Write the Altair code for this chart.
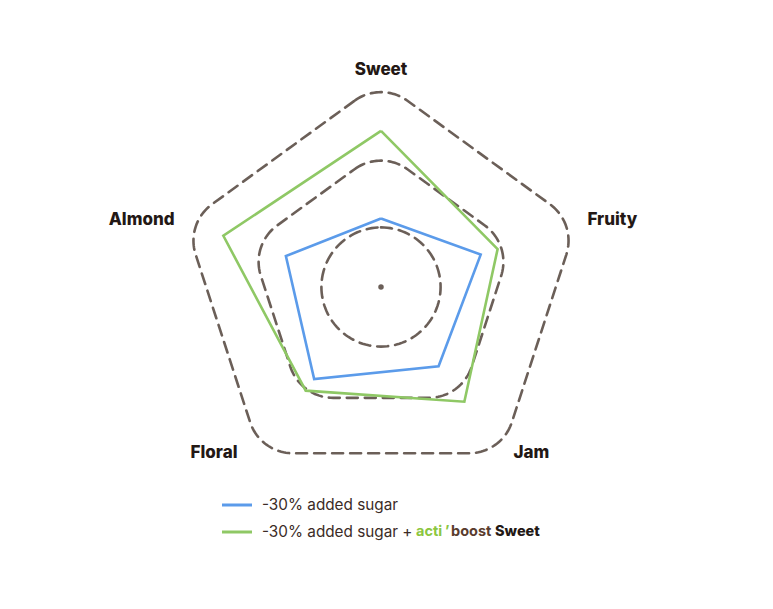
import altair as alt
import numpy as np
import pandas as pd

# ---- data ----
categories = ["Sweet", "Fruity", "Jam", "Floral", "Almond"]
angles = [90, 18, -54, -126, 162]
series_names = ["-30% added sugar", "-30% added sugar + actiboost Sweet"]
blue_values = [1.0, 1.53, 1.43, 1.66, 1.46]
green_values = [2.28, 1.79, 2.07, 1.87, 2.42]
grid_levels = [1, 2, 3]

UNIT = 68.5          # pixels per scale unit
CORNER = 45          # corner rounding of the grid (px)
W, H = 757, 593
CX, CY = 373, 279    # centre of radar in plot coords
FONT = "Inter"

rows = []
for s, vals in zip(series_names, [blue_values, green_values]):
    for i in range(len(categories) + 1):
        k = i % len(categories)
        rows.append({"series": s, "cat": categories[k], "angle": angles[k],
                     "value": vals[k], "order": i})
df = pd.DataFrame(rows)

# rounded pentagon grid (innermost one fully rounded into a circle)
grid_rows = []
o = 0
for lvl in grid_levels:
    R = lvl * UNIT
    pts = []
    if lvl == 1:
        rc = R * 0.87
        for phi in np.linspace(90, -270, 121):
            pts.append((rc * np.cos(np.radians(phi)), rc * np.sin(np.radians(phi))))
    else:
        r = CORNER
        c = R - r / np.sin(np.radians(54))
        for ang in angles:
            for phi in np.linspace(ang + 36, ang - 36, 25):
                pts.append((c * np.cos(np.radians(ang)) + r * np.cos(np.radians(phi)),
                            c * np.sin(np.radians(ang)) + r * np.sin(np.radians(phi))))
        pts.append(pts[0])
    for (px, py) in pts:
        grid_rows.append({"level": lvl, "gx": px, "gy": py, "o": o})
        o += 1
gdf = pd.DataFrame(grid_rows)

xs = alt.Scale(domain=[-CX, W - CX], range=[0, W])
ys = alt.Scale(domain=[-(H - CY), CY], range=[H, 0])
noax = dict(axis=None)

grid = alt.Chart(gdf).mark_line(
    color="#6b5f58", strokeWidth=2.6, strokeDash=[11, 7], strokeCap="round"
).encode(
    x=alt.X("gx:Q", scale=xs, **noax),
    y=alt.Y("gy:Q", scale=ys, **noax),
    detail="level:N",
    order="o:Q",
)

centre = alt.Chart(pd.DataFrame({"cx": [0], "cy": [0]})).mark_circle(
    size=30, color="#6b5f58", opacity=1
).encode(x=alt.X("cx:Q", scale=xs, **noax), y=alt.Y("cy:Q", scale=ys, **noax))

lines = alt.Chart(df).transform_calculate(
    px=f"datum.value*{UNIT}*cos(datum.angle*PI/180)",
    py=f"datum.value*{UNIT}*sin(datum.angle*PI/180)",
).mark_line(strokeWidth=2.6, strokeJoin="miter").encode(
    x=alt.X("px:Q", scale=xs, **noax),
    y=alt.Y("py:Q", scale=ys, **noax),
    color=alt.Color("series:N", scale=alt.Scale(domain=series_names,
                                                range=["#5b9bea", "#8fc865"]), legend=None),
    detail="series:N",
    order="order:Q",
)

lab_df = pd.DataFrame({"cat": categories, "angle": angles})
label_style = {
    "Sweet": dict(r=208, align="center", baseline="bottom", dx=0, dy=0),
    "Fruity": dict(r=217, align="left", baseline="middle", dx=0, dy=0),
    "Jam": dict(r=205, align="left", baseline="middle", dx=12, dy=0),
    "Floral": dict(r=205, align="right", baseline="middle", dx=-23, dy=0),
    "Almond": dict(r=217, align="right", baseline="middle", dx=0, dy=0),
}
label_layers = []
for cat in categories:
    st = label_style[cat]
    label_layers.append(
        alt.Chart(lab_df).transform_filter(alt.datum.cat == cat).transform_calculate(
            lx=f"{st['r']}*cos(datum.angle*PI/180)",
            ly=f"{st['r']}*sin(datum.angle*PI/180)",
        ).mark_text(
            font=FONT, fontWeight=800, fontSize=17, color="#231815",
            align=st["align"], baseline=st["baseline"], dx=st["dx"], dy=st["dy"],
        ).encode(
            x=alt.X("lx:Q", scale=xs, **noax),
            y=alt.Y("ly:Q", scale=ys, **noax),
            text="cat:N",
        )
    )

# ---- manual legend ----
leg_y = [497, 524]   # plot coords
colors = ["#5b9bea", "#8fc865"]
leg_layers = []
for i in range(2):
    leg_layers.append(
        alt.Chart(pd.DataFrame({"a": [0]})).mark_rule(strokeWidth=3, color=colors[i]).encode(
            x=alt.value(214), x2=alt.value(244), y=alt.value(leg_y[i])
        )
    )
leg_text = "-30% added sugar"
leg_layers.append(alt.Chart(pd.DataFrame({"t": [leg_text]})).mark_text(
    font=FONT, fontSize=15.3, color="#3b2b26", align="left", baseline="middle"
).encode(x=alt.value(254), y=alt.value(leg_y[0]), text="t:N"))
leg_layers.append(alt.Chart(pd.DataFrame({"t": [leg_text + " +"]})).mark_text(
    font=FONT, fontSize=15.3, color="#3b2b26", align="left", baseline="middle"
).encode(x=alt.value(254), y=alt.value(leg_y[1]), text="t:N"))
brand = [("acti", 408, "#8cc63f", 700, 14.5), ("\u02bc", 437, "#8cc63f", 700, 14.5),
         ("boost", 443, "#5a3d2e", 700, 14.5), ("Sweet", 487, "#231815", 800, 14.5)]
for t, xp, col, fw, fs in brand:
    leg_layers.append(alt.Chart(pd.DataFrame({"t": [t]})).mark_text(
        font=FONT, fontSize=fs, fontWeight=fw, color=col, align="left", baseline="middle"
    ).encode(x=alt.value(xp), y=alt.value(leg_y[1]), text="t:N"))

chart = alt.layer(grid, centre, lines, *label_layers, *leg_layers).properties(
    width=W, height=H, padding=0,
    autosize=alt.AutoSizeParams(type="none"),
).configure_view(stroke=None)

chart.save("out.html", embed_options={"renderer": "svg", "actions": False})
